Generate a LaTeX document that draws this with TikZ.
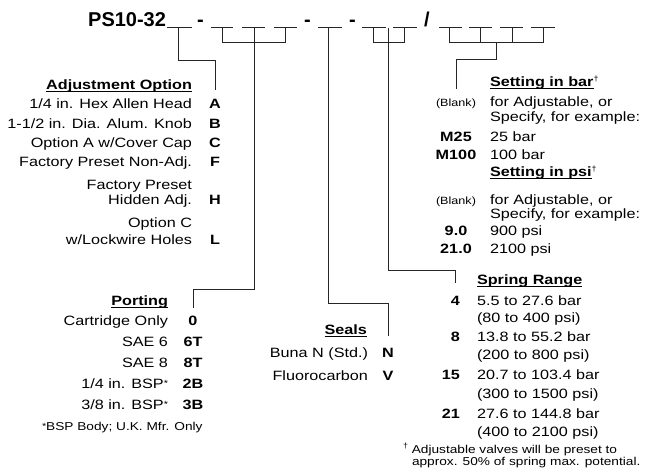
\documentclass[tikz,border=0pt]{standalone}
\usepackage{fontspec}
\setmainfont{Liberation Sans}[FakeStretch=1.2]
\newfontfamily\titlefont{Liberation Sans}
\newcommand\hdul[1]{\setbox0\hbox{#1}\rlap{\rule[-2.4pt]{\wd0}{0.9pt}}\box0}
\newcommand\dagsup{\raisebox{4.5pt}{\fontsize{7.5}{8}\mdseries\selectfont\char"2020}}
\newcommand\astsup{\raisebox{1.5pt}{\fontsize{9}{9}\selectfont *}}
\tikzset{
  ln/.style={line width=0.9pt, draw=black!85, line cap=butt, line join=miter},
  bl/.style={line width=1pt, draw=black!85},
  base/.style={inner sep=0pt, outer sep=0pt, font=\fontsize{13.5}{15}\selectfont},
  dsc/.style={base, anchor=base east},
  txt/.style={base, anchor=base west},
  cd/.style={base, anchor=base, font=\fontsize{13.5}{15}\selectfont\bfseries},
  cdr/.style={base, anchor=base east, font=\fontsize{13.5}{15}\selectfont\bfseries},
  hdr/.style={base, anchor=base east, font=\fontsize{13.5}{15}\selectfont\bfseries},
  hdl/.style={base, anchor=base west, font=\fontsize{13.5}{15}\selectfont\bfseries},
  blank/.style={base, anchor=base, font=\fontsize{10.5}{12}\selectfont},
  fnote/.style={base, anchor=base west, font=\fontsize{11.4}{13}\selectfont},
  ttl/.style={inner sep=0pt, outer sep=0pt, font=\titlefont\bfseries\fontsize{20}{22}\selectfont},
}
\begin{document}
\begin{tikzpicture}[x=1pt,y=-1pt]
\useasboundingbox (0,0) rectangle (645,475);

% ---------- title line ----------
\node[ttl, anchor=base east] (title) at (166,26) {PS10-32};
\node[ttl, anchor=base] (d1) at (200.5,26) {-};
\node[ttl, anchor=base] (d2) at (307.5,26) {-};
\node[ttl, anchor=base] (d3) at (352.5,26) {-};
\node[ttl, anchor=base] (sl) at (427,26) {/};

% blanks
\draw[bl] (167,27.5) -- (192,27.5);
\draw[bl] (211,27.5) -- (233,27.5);
\draw[bl] (242,27.5) -- (265,27.5);
\draw[bl] (274,27.5) -- (297,27.5);
\draw[bl] (318,27.5) -- (342,27.5);
\draw[bl] (362,27.5) -- (386,27.5);
\draw[bl] (393,27.5) -- (417,27.5);
\draw[bl] (439,27.5) -- (462,27.5);
\draw[bl] (469,27.5) -- (492,27.5);
\draw[bl] (500,27.5) -- (523,27.5);
\draw[bl] (531,27.5) -- (555,27.5);

\coordinate (b1) at (178,27.5);
\coordinate (b3) at (328,27.5);
\coordinate (g2) at (254,42);
\coordinate (g4) at (388,42);
\coordinate (g5) at (496,42);

% brackets
\draw[ln] (222,27.5) -- (222,42) -- (285,42) -- (285,27.5);
\draw[ln] (254,27.5) -- (g2);
\draw[ln] (373,27.5) -- (373,42) -- (404,42) -- (404,27.5);
\draw[ln] (388,27.5) -- (g4);
\draw[ln] (449,27.5) -- (449,42) -- (543,42) -- (543,27.5);
\draw[ln] (480,27.5) -- (480,42);
\draw[ln] (512,27.5) -- (512,42);

% ---------- Adjustment Option ----------
\node[hdr] (hadj) at (192,89) {\hdul{Adjustment Option}};
\node[dsc] (a1) at (192,108.5) {1/4 in. Hex Allen Head};
\node[cd] (cA) at (215,108.5) {A};
\node[dsc] (a2) at (192,128) {1-1/2 in. Dia. Alum. Knob};
\node[cd] (cB) at (215,128) {B};
\node[dsc] (a3) at (192,147) {Option A w/Cover Cap};
\node[cd] (cC) at (215,147) {C};
\node[dsc] (a4) at (192,166) {Factory Preset Non-Adj.};
\node[cd] (cF) at (215,166) {F};
\node[dsc] (a5) at (192,189) {Factory Preset};
\node[dsc] (a6) at (192,204.5) {Hidden Adj.};
\node[cd] (cH) at (215,204.5) {H};
\node[dsc] (a7) at (192,227) {Option C};
\node[dsc] (a8) at (192,244.5) {w/Lockwire Holes};
\node[cd] (cL) at (215,244.5) {L};

% ---------- Porting ----------
\node[hdr] (hport) at (168,305) {\hdul{Porting}};
\node[dsc] (p1) at (168,325.5) {Cartridge Only};
\node[cd] (c0) at (193,325.5) {0};
\node[dsc] (p2) at (168,346.5) {SAE 6};
\node[cd] (c6T) at (193,346.5) {6T};
\node[dsc] (p3) at (168,367) {SAE 8};
\node[cd] (c8T) at (193,367) {8T};
\node[dsc] (p4) at (168,388) {1/4 in. BSP\astsup};
\node[cd] (c2B) at (193,388) {2B};
\node[dsc] (p5) at (168,409) {3/8 in. BSP\astsup};
\node[cd] (c3B) at (193,409) {3B};
\node[fnote] (pfn) at (42,430.5) {\astsup BSP Body; U.K. Mfr. Only};

% ---------- Seals ----------
\node[hdr] (hseal) at (367,334) {\hdul{Seals}};
\node[dsc] (s1) at (368,357) {Buna N (Std.)};
\node[cd] (cN) at (388,357) {N};
\node[dsc] (s2) at (368,380) {Fluorocarbon};
\node[cd] (cV) at (388,380) {V};

% ---------- Setting ----------
\node[hdl] (hbar) at (490,86) {\hdul{Setting in bar}\dagsup};
\node[blank] (bk1) at (456,106) {(Blank)};
\node[txt] (t1) at (490,106) {for Adjustable, or};
\node[txt] (t2) at (490,121) {Specify, for example:};
\node[cd] (cM25) at (456,141) {M25};
\node[txt] (t3) at (490,141) {25 bar};
\node[cd] (cM100) at (456,159.5) {M100};
\node[txt] (t4) at (490,159.5) {100 bar};
\node[hdl] (hpsi) at (490,176) {\hdul{Setting in psi}\dagsup};
\node[blank] (bk2) at (456,204.5) {(Blank)};
\node[txt] (t5) at (490,204.5) {for Adjustable, or};
\node[txt] (t6) at (490,218.5) {Specify, for example:};
\node[cd] (c90) at (456,235.5) {9.0};
\node[txt] (t7) at (490,235.5) {900 psi};
\node[cd] (c210) at (456,253) {21.0};
\node[txt] (t8) at (490,253) {2100 psi};

% ---------- Spring Range ----------
\node[hdl] (hspr) at (477,284.5) {\hdul{Spring Range}};
\node[cdr] (c4) at (460,305) {4};
\node[txt] (r1) at (477,305) {5.5 to 27.6 bar};
\node[txt] (r1b) at (477,322.5) {(80 to 400 psi)};
\node[cdr] (c8) at (460,341) {8};
\node[txt] (r2) at (477,341) {13.8 to 55.2 bar};
\node[txt] (r2b) at (477,359.5) {(200 to 800 psi)};
\node[cdr] (c15) at (460,379.5) {15};
\node[txt] (r3) at (477,379.5) {20.7 to 103.4 bar};
\node[txt] (r3b) at (477,398) {(300 to 1500 psi)};
\node[cdr] (c21) at (460,418) {21};
\node[txt] (r4) at (477,418) {27.6 to 144.8 bar};
\node[txt] (r4b) at (477,436) {(400 to 2100 psi)};
\node[fnote] (sfn1) at (403,453) {\dagsup\ Adjustable valves will be preset to};
\node[fnote] (sfn2) at (412,465) {approx. 50\% of spring max. potential.};

% ---------- connectors ----------
\draw[ln] (b1) -- (178,60) -| ([yshift=9pt]cA.north);
\draw[ln] (g2) -- (254,289) -| ([yshift=8pt]c0.north);
\draw[ln] (b3) -- (328,303) -| ([yshift=12pt]cN.north);
\draw[ln] (g4) -- (388,270) -| ([yshift=13pt]c4.north);
\draw[ln] (g5) -- (496,59) -| ([yshift=9pt]bk1.north);
\end{tikzpicture}
\end{document}
